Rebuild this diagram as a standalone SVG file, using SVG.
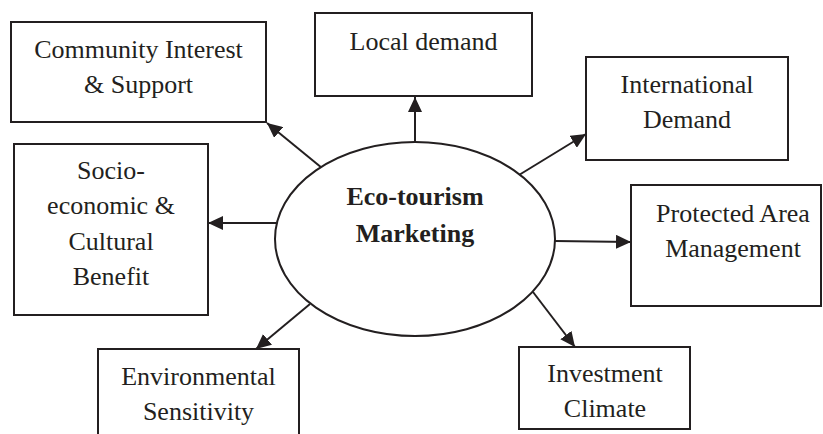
<svg xmlns="http://www.w3.org/2000/svg" width="823" height="434" viewBox="0 0 823 434">
  <style>
    .box { fill: #ffffff; stroke: #231f20; stroke-width: 2; }
    .hub { fill: #ffffff; stroke: #231f20; stroke-width: 2; }
    .lbl { font-family: "Liberation Serif", "Times New Roman", serif; font-size: 26px; fill: #231f20; text-anchor: middle; }
    .hubtxt { font-family: "Liberation Serif", "Times New Roman", serif; font-size: 26px; font-weight: bold; fill: #231f20; text-anchor: middle; }
    .edge { stroke: #231f20; stroke-width: 2; fill: none; marker-end: url(#head); }
  </style>
  <defs>
    <marker id="head" markerUnits="userSpaceOnUse" markerWidth="16" markerHeight="14" refX="15" refY="7" orient="auto">
      <path d="M0,0 L15,7 L0,14 Z" fill="#231f20"/>
    </marker>
  </defs>
  <rect width="823" height="434" fill="#ffffff"/>

  <g id="connectors">
    <line class="edge" x1="322" y1="168" x2="267" y2="123"/>
    <line class="edge" x1="415" y1="142" x2="415" y2="97"/>
    <line class="edge" x1="519" y1="175" x2="586" y2="134"/>
    <line class="edge" x1="276" y1="223" x2="208" y2="223"/>
    <line class="edge" x1="555" y1="241" x2="631" y2="242"/>
    <line class="edge" x1="310" y1="304" x2="256" y2="349"/>
    <line class="edge" x1="533" y1="292" x2="575" y2="347"/>
  </g>

  <g id="hub">
    <ellipse class="hub" cx="415" cy="239" rx="140" ry="97"/>
    <text class="hubtxt" x="415" y="205">Eco-tourism</text>
    <text class="hubtxt" x="415" y="242">Marketing</text>
  </g>

  <g id="community">
    <rect class="box" x="11" y="22" width="255" height="100"/>
    <text class="lbl" x="138.5" y="58">Community Interest</text>
    <text class="lbl" x="138.5" y="93">&amp; Support</text>
  </g>

  <g id="local">
    <rect class="box" x="315" y="13" width="217" height="83"/>
    <text class="lbl" x="423.5" y="50">Local demand</text>
  </g>

  <g id="international">
    <rect class="box" x="586" y="57" width="202" height="103"/>
    <text class="lbl" x="687" y="93">International</text>
    <text class="lbl" x="687" y="128">Demand</text>
  </g>

  <g id="socio">
    <rect class="box" x="14" y="144" width="194" height="171"/>
    <text class="lbl" x="111" y="179">Socio-</text>
    <text class="lbl" x="111" y="214">economic &amp;</text>
    <text class="lbl" x="111" y="250">Cultural</text>
    <text class="lbl" x="111" y="285">Benefit</text>
  </g>

  <g id="protected">
    <rect class="box" x="631" y="185" width="190" height="121"/>
    <text class="lbl" x="733" y="222">Protected Area</text>
    <text class="lbl" x="733" y="257">Management</text>
  </g>

  <g id="environmental">
    <rect class="box" x="98" y="349" width="201" height="95"/>
    <text class="lbl" x="198.5" y="385">Environmental</text>
    <text class="lbl" x="198.5" y="420">Sensitivity</text>
  </g>

  <g id="investment">
    <rect class="box" x="519" y="347" width="171" height="82"/>
    <text class="lbl" x="605" y="382">Investment</text>
    <text class="lbl" x="605" y="417">Climate</text>
  </g>
</svg>
